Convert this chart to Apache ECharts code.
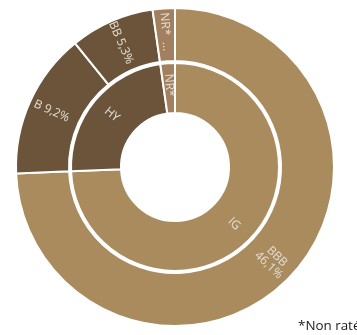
<!DOCTYPE html>
<html>
<head>
<meta charset="utf-8">
<script src="https://cdn.jsdelivr.net/npm/echarts@6/dist/echarts.min.js"></script>
<style>
  html, body { margin: 0; padding: 0; background: #fff; }
  #chart { width: 357px; height: 335px; }
</style>
</head>
<body>
<div id="chart"></div>
<script>
// Rating breakdown (% of portfolio)
const outerNames = ['BBB', 'B', 'BB', 'NR*'];
const outerValues = [46.1, 9.2, 5.3, 1.4];
const outerColors = ['#a98b5e', '#6b5439', '#6b5439', '#a2805f'];

// Investment grade / high yield split
const innerNames = ['IG', 'HY', 'NR*'];
const innerValues = [46.1, 14.5, 1.4];
const innerColors = ['#a98b5e', '#6b5439', '#a2805f'];

const footnote = '*Non raté';

const fmtPct = v => v.toFixed(1).replace('.', ',') + '%';

const labelBase = {
  position: 'inside',
  rotate: 'radial',
  color: '#e4ddd4',
  fontFamily: 'Open Sans',
  fontSize: 12
};

const outerData = outerNames.map((n, i) => {
  const item = { name: n, value: outerValues[i], itemStyle: { color: outerColors[i] } };
  if (n === 'BBB') {
    item.label = { formatter: p => p.name + '\n' + fmtPct(p.value) };
  } else if (n === 'NR*') {
    item.label = { width: 42, overflow: 'truncate', ellipsis: ' …' };
  }
  return item;
});

const innerData = innerNames.map((n, i) => ({
  name: n, value: innerValues[i], itemStyle: { color: innerColors[i] }
}));

const chart = echarts.init(document.getElementById('chart'));
chart.setOption({
  animation: false,
  graphic: [{
    type: 'text',
    left: 298,
    top: 320,
    style: { text: footnote, fill: '#1a1a1a', font: '13.4px "Open Sans"' }
  }],
  series: [
    {
      type: 'pie',
      center: [175, 167],
      radius: [54, 104],
      startAngle: 90,
      clockwise: true,
      itemStyle: { borderColor: '#fff', borderWidth: 2 },
      label: Object.assign({}, labelBase, { formatter: '{b}' }),
      labelLine: { show: false },
      data: innerData
    },
    {
      type: 'pie',
      center: [175, 167],
      radius: [106, 159],
      startAngle: 90,
      clockwise: true,
      itemStyle: { borderColor: '#fff', borderWidth: 2 },
      label: Object.assign({}, labelBase, { formatter: p => p.name + ' ' + fmtPct(p.value) }),
      labelLine: { show: false },
      data: outerData
    }
  ]
});
</script>
</body>
</html>
